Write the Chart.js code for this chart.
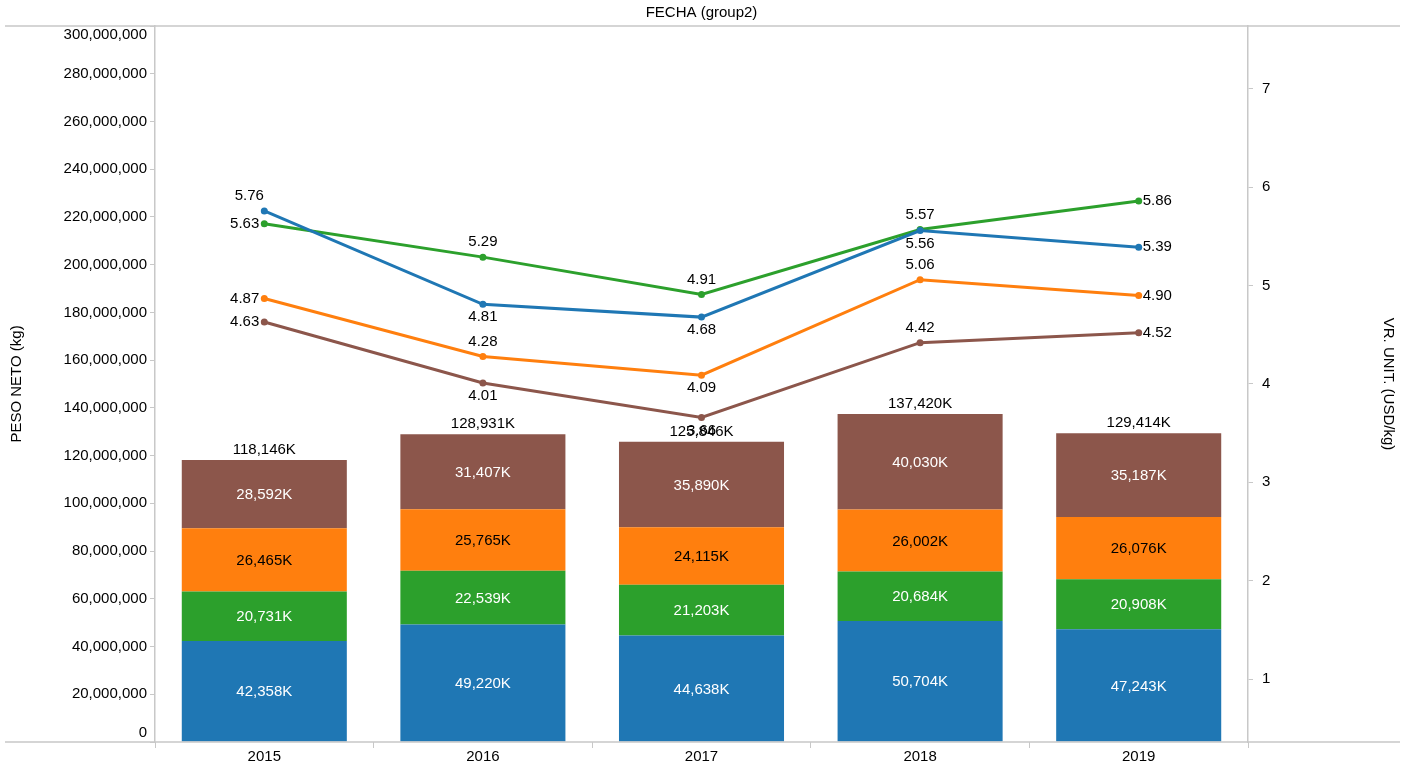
<!DOCTYPE html>
<html>
<head>
<meta charset="utf-8">
<script src="https://cdn.jsdelivr.net/npm/chart.js@4/dist/chart.umd.min.js"></script>
<style>
    body { margin: 0; background: #fff; }
</style>
</head>
<body>
<canvas id="grafico" width="1409" height="769"></canvas>
<script>
const years = ['2015', '2016', '2017', '2018', '2019'];

// PESO NETO (kg), stacked bars, bottom to top
const pesoAzul = [42358000, 49220000, 44638000, 50704000, 47243000];
const pesoVerde = [20731000, 22539000, 21203000, 20684000, 20908000];
const pesoNaranja = [26465000, 25765000, 24115000, 26002000, 26076000];
const pesoMarron = [28592000, 31407000, 35890000, 40030000, 35187000];

// VR. UNIT. (USD/kg), lines on the right axis
const vrAzul = [5.76, 4.81, 4.68, 5.56, 5.39];
const vrVerde = [5.63, 5.29, 4.91, 5.57, 5.86];
const vrNaranja = [4.87, 4.28, 4.09, 5.06, 4.90];
const vrMarron = [4.63, 4.01, 3.66, 4.42, 4.52];

// tick labels
const pesoTicks = [0, 20000000, 40000000, 60000000, 80000000, 100000000, 120000000, 140000000,
    160000000, 180000000, 200000000, 220000000, 240000000, 260000000, 280000000, 300000000];
const vrTicks = [1, 2, 3, 4, 5, 6, 7];

const fuente = '"Liberation Sans", Arial, sans-serif';
const gris = '#c8c8c8';

Chart.defaults.font.family = fuente;
Chart.defaults.font.size = 15;
Chart.defaults.color = '#000';

function fmtK(v) {
    return Math.round(v / 1000).toLocaleString('en-US') + 'K';
}

// value labels on bars and lines
const etiquetas = {
    id: 'etiquetas',
    afterDatasetsDraw(chart) {
        const ctx = chart.ctx;
        ctx.save();
        ctx.font = '15px ' + fuente;
        ctx.textBaseline = 'middle';
        let ultimaBarra = -1;
        chart.data.datasets.forEach((ds, i) => {
            const meta = chart.getDatasetMeta(i);
            if (ds.type === 'line') {
                ctx.fillStyle = '#000';
                meta.data.forEach((pt, j) => {
                    const txt = ds.data[j].toFixed(2);
                    const pos = ds.labelPos[j];
                    if (pos === 'left') {
                        ctx.textAlign = 'right';
                        ctx.fillText(txt, pt.x - 5, pt.y);
                    } else if (pos === 'right') {
                        ctx.textAlign = 'left';
                        ctx.fillText(txt, pt.x + 4, pt.y);
                    } else if (pos === 'above') {
                        ctx.textAlign = 'center';
                        ctx.fillText(txt, pt.x, pt.y - 15);
                    } else if (pos === 'aboveLeft') {
                        ctx.textAlign = 'center';
                        ctx.fillText(txt, pt.x - 15, pt.y - 15);
                    } else {
                        ctx.textAlign = 'center';
                        ctx.fillText(txt, pt.x, pt.y + 13);
                    }
                });
            } else {
                ultimaBarra = i;
                ctx.fillStyle = ds.labelColor;
                ctx.textAlign = 'center';
                meta.data.forEach((bar, j) => {
                    ctx.fillText(fmtK(ds.data[j]), bar.x, (bar.y + bar.base) / 2 + 1);
                });
            }
        });
        // stack totals
        if (ultimaBarra >= 0) {
            const meta = chart.getDatasetMeta(ultimaBarra);
            ctx.fillStyle = '#000';
            ctx.textAlign = 'center';
            meta.data.forEach((bar, j) => {
                let total = 0;
                chart.data.datasets.forEach(ds => {
                    if (ds.type !== 'line') total += ds.data[j];
                });
                ctx.fillText(fmtK(total), bar.x, bar.y - 10);
            });
        }
        ctx.restore();
    },
    afterDraw(chart) {
        const ctx = chart.ctx;
        const area = chart.chartArea;
        ctx.save();
        // frame lines across the whole width
        ctx.strokeStyle = gris;
        ctx.lineWidth = 1.5;
        ctx.beginPath();
        ctx.moveTo(5, area.top);
        ctx.lineTo(1400, area.top);
        ctx.moveTo(5, area.bottom);
        ctx.lineTo(1400, area.bottom);
        ctx.stroke();
        // title
        ctx.fillStyle = '#000';
        ctx.font = '15px ' + fuente;
        ctx.textAlign = 'center';
        ctx.textBaseline = 'middle';
        ctx.fillText('FECHA (group2)', (area.left + area.right) / 2, 13);
        // left tick labels, kept inside the plot height
        const y = chart.scales.y;
        ctx.textAlign = 'right';
        y.ticks.forEach(t => {
            let py = y.getPixelForValue(t.value);
            let base = 'middle';
            if (py > area.bottom - 10) { py = area.bottom - 2; base = 'bottom'; }
            if (py < area.top + 10) { py = area.top + 1; base = 'top'; }
            ctx.textBaseline = base;
            ctx.fillText(t.value.toLocaleString('en-US'), y.right - 8, py);
        });
        ctx.restore();
    }
};

const ctx = document.getElementById('grafico').getContext('2d');
const grafico = new Chart(ctx, {
    type: 'bar',
    data: {
        labels: years,
        datasets: [
            { type: 'line', data: vrAzul, yAxisID: 'y1', borderColor: '#1f77b4', backgroundColor: '#1f77b4',
                order: 0, labelPos: ['aboveLeft', 'below', 'below', 'below', 'right'] },
            { type: 'line', data: vrNaranja, yAxisID: 'y1', borderColor: '#ff7f0e', backgroundColor: '#ff7f0e',
                order: 0, labelPos: ['left', 'above', 'below', 'above', 'right'] },
            { type: 'line', data: vrVerde, yAxisID: 'y1', borderColor: '#2ca02c', backgroundColor: '#2ca02c',
                order: 0, labelPos: ['left', 'above', 'above', 'above', 'right'] },
            { type: 'line', data: vrMarron, yAxisID: 'y1', borderColor: '#8c564b', backgroundColor: '#8c564b',
                order: 0, labelPos: ['left', 'below', 'below', 'above', 'right'] },
            { data: pesoAzul, backgroundColor: '#1f77b4', labelColor: '#fff', order: 1 },
            { data: pesoVerde, backgroundColor: '#2ca02c', labelColor: '#fff', order: 1 },
            { data: pesoNaranja, backgroundColor: '#ff7f0e', labelColor: '#000', order: 1 },
            { data: pesoMarron, backgroundColor: '#8c564b', labelColor: '#fff', order: 1 }
        ]
    },
    options: {
        responsive: false,
        animation: false,
        devicePixelRatio: 1,
        layout: { padding: { top: 26, left: 0, right: 0, bottom: 0 } },
        datasets: {
            bar: { categoryPercentage: 0.755, barPercentage: 1 },
            line: { borderWidth: 3, pointRadius: 3.5, pointBorderWidth: 0, tension: 0 }
        },
        plugins: {
            legend: { display: false },
            tooltip: { enabled: false }
        },
        scales: {
            x: {
                stacked: true,
                grid: { offset: true, drawOnChartArea: false, drawTicks: true, tickLength: 6, color: gris },
                border: { display: false },
                ticks: { padding: 0, font: { size: 15 } },
                afterFit(scale) { scale.height = 27; }
            },
            y: {
                stacked: true,
                position: 'left',
                min: 0,
                max: 300000000,
                afterBuildTicks(scale) { scale.ticks = pesoTicks.map(v => ({ value: v })); },
                grid: { drawOnChartArea: false, tickLength: 5, color: gris },
                border: { display: true, color: gris, width: 1.5 },
                ticks: { display: false },
                title: { display: true, text: 'PESO NETO (kg)', font: { size: 15 }, padding: { top: 8, bottom: 0 } },
                afterFit(scale) { scale.width = 155; }
            },
            y1: {
                stacked: false,
                position: 'right',
                min: 0.36,
                max: 7.64,
                afterBuildTicks(scale) { scale.ticks = vrTicks.map(v => ({ value: v })); },
                grid: { drawOnChartArea: false, tickLength: 5, color: gris },
                border: { display: true, color: gris, width: 1.5 },
                ticks: { padding: 9, font: { size: 15 } },
                title: { display: true, text: 'VR. UNIT. (USD/kg)', font: { size: 15 }, padding: { top: 12, bottom: 0 } },
                afterFit(scale) { scale.width = 161; }
            }
        }
    },
    plugins: [etiquetas]
});
</script>
</body>
</html>
